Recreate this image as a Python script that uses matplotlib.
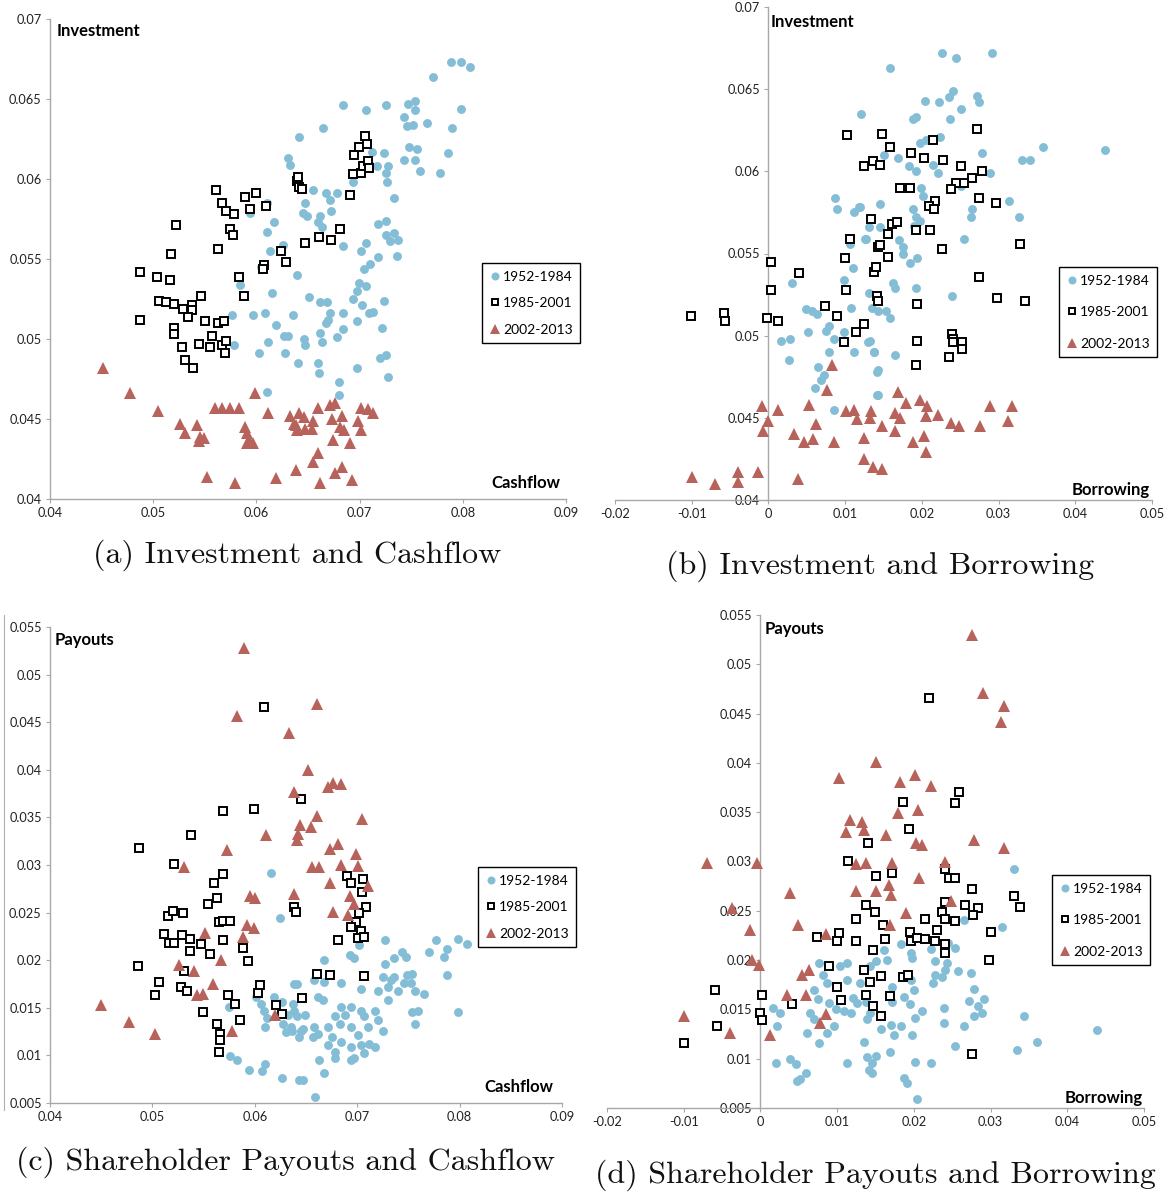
import matplotlib
matplotlib.use("Agg")
import matplotlib.pyplot as plt
from matplotlib.lines import Line2D

W, H = 1169, 1192

# ---------------- (a) Investment vs Cashflow ----------------
a52_x = [0.0641, 0.0631, 0.0633, 0.0610, 0.0594, 0.0617, 0.0610, 0.0626, 0.0613, 0.0604, 0.0639, 0.0584,
         0.0615, 0.0576, 0.0597, 0.0608, 0.0635, 0.0619, 0.0627, 0.0631, 0.0611, 0.0603, 0.0628, 0.0578,
         0.0640, 0.0610,
         0.0665, 0.0684, 0.0706, 0.0726, 0.0747, 0.0754, 0.0754, 0.0743, 0.0765, 0.0746, 0.0752, 0.0771,
         0.0789, 0.0798, 0.0807, 0.0798, 0.0790, 0.0786, 0.0778, 0.0759, 0.0748, 0.0756, 0.0754, 0.0743,
         0.0724, 0.0717, 0.0728, 0.0726, 0.0727, 0.0712, 0.0710, 0.0694, 0.0655, 0.0667, 0.0671, 0.0678,
         0.0647, 0.0645, 0.0649, 0.0662, 0.0660, 0.0672, 0.0664, 0.0733, 0.0718, 0.0726, 0.0726, 0.0733,
         0.0729, 0.0737, 0.0684, 0.0706, 0.0701, 0.0736, 0.0718, 0.0710, 0.0704, 0.0651, 0.0662, 0.0668,
         0.0699, 0.0697, 0.0706, 0.0694, 0.0724, 0.0702, 0.0709, 0.0713, 0.0671, 0.0669, 0.0667, 0.0684,
         0.0697, 0.0646, 0.0647, 0.0662, 0.0664, 0.0684, 0.0678, 0.0722, 0.0660, 0.0661, 0.0697, 0.0720,
         0.0726, 0.0728, 0.0680, 0.0680]
a52_y = [0.0626, 0.0613, 0.0609, 0.0585, 0.0579, 0.0573, 0.0567, 0.0559, 0.0555, 0.0545, 0.0540, 0.0534,
         0.0529, 0.0515, 0.0515, 0.0516, 0.0515, 0.0509, 0.0502, 0.0502, 0.0498, 0.0491, 0.0491, 0.0496,
         0.0485, 0.0467,
         0.0632, 0.0646, 0.0643, 0.0646, 0.0647, 0.0649, 0.0643, 0.0639, 0.0635, 0.0633, 0.0634, 0.0664,
         0.0673, 0.0673, 0.0670, 0.0644, 0.0632, 0.0616, 0.0604, 0.0605, 0.0620, 0.0619, 0.0612, 0.0612,
         0.0616, 0.0608, 0.0608, 0.0604, 0.0598, 0.0617, 0.0609, 0.0598, 0.0593, 0.0591, 0.0587, 0.0591,
         0.0585, 0.0579, 0.0577, 0.0577, 0.0573, 0.0580, 0.0570, 0.0588, 0.0572, 0.0574, 0.0565, 0.0566,
         0.0561, 0.0562, 0.0558, 0.0560, 0.0555, 0.0552, 0.0551, 0.0547, 0.0544, 0.0526, 0.0523, 0.0523,
         0.0535, 0.0530, 0.0533, 0.0525, 0.0524, 0.0521, 0.0516, 0.0517, 0.0516, 0.0512, 0.0510, 0.0516,
         0.0511, 0.0500, 0.0496, 0.0504, 0.0498, 0.0506, 0.0501, 0.0507, 0.0485, 0.0479, 0.0482, 0.0488,
         0.0490, 0.0476, 0.0473, 0.0465]
a85_x = [0.0487, 0.0487, 0.0504, 0.0516, 0.0517, 0.0522, 0.0506, 0.0512, 0.0520, 0.0529, 0.0538, 0.0538,
         0.0534, 0.0546, 0.0520, 0.0520, 0.0528, 0.0531, 0.0539, 0.0544, 0.0550, 0.0555, 0.0557, 0.0563,
         0.0569, 0.0567, 0.0570, 0.0571, 0.0563, 0.0561, 0.0567, 0.0571, 0.0578, 0.0574, 0.0577, 0.0583,
         0.0588, 0.0589, 0.0594, 0.0600, 0.0609, 0.0607, 0.0606, 0.0624, 0.0629, 0.0639, 0.0641, 0.0640,
         0.0644, 0.0647, 0.0661, 0.0672, 0.0681, 0.0691, 0.0694, 0.0695, 0.0699, 0.0705, 0.0707, 0.0701,
         0.0703, 0.0708, 0.0709]
a85_y = [0.0542, 0.0512, 0.0539, 0.0537, 0.0553, 0.0571, 0.0524, 0.0523, 0.0522, 0.0519, 0.0521, 0.0518,
         0.0514, 0.0527, 0.0507, 0.0503, 0.0495, 0.0487, 0.0482, 0.0497, 0.0511, 0.0495, 0.0502, 0.0510,
         0.0511, 0.0496, 0.0491, 0.0499, 0.0556, 0.0593, 0.0585, 0.0580, 0.0578, 0.0569, 0.0565, 0.0539,
         0.0527, 0.0589, 0.0581, 0.0591, 0.0583, 0.0546, 0.0544, 0.0555, 0.0548, 0.0599, 0.0595, 0.0601,
         0.0594, 0.0560, 0.0564, 0.0562, 0.0569, 0.0590, 0.0603, 0.0615, 0.0620, 0.0627, 0.0622, 0.0604,
         0.0608, 0.0611, 0.0607]
a02_x = [0.0451, 0.0478, 0.0505, 0.0526, 0.0531, 0.0542, 0.0545, 0.0544, 0.0549, 0.0560, 0.0567, 0.0574,
         0.0583, 0.0589, 0.0591, 0.0593, 0.0597, 0.0591, 0.0599, 0.0611, 0.0552, 0.0579, 0.0619, 0.0638,
         0.0636, 0.0639, 0.0633, 0.0641, 0.0646, 0.0638, 0.0647, 0.0654, 0.0660, 0.0655, 0.0671, 0.0676,
         0.0673, 0.0683, 0.0681, 0.0685, 0.0701, 0.0708, 0.0713, 0.0698, 0.0701, 0.0674, 0.0691, 0.0660,
         0.0655, 0.0676, 0.0683, 0.0662, 0.0693]
a02_y = [0.0482, 0.0466, 0.0455, 0.0447, 0.0441, 0.0446, 0.0439, 0.0436, 0.0438, 0.0457, 0.0457, 0.0457,
         0.0457, 0.0445, 0.0441, 0.0437, 0.0435, 0.0435, 0.0466, 0.0454, 0.0414, 0.0410, 0.0413, 0.0418,
         0.0447, 0.0443, 0.0452, 0.0454, 0.0451, 0.0446, 0.0444, 0.0444, 0.0457, 0.0449, 0.0459, 0.0460,
         0.0450, 0.0452, 0.0445, 0.0443, 0.0457, 0.0456, 0.0454, 0.0449, 0.0443, 0.0437, 0.0435, 0.0429,
         0.0423, 0.0416, 0.0420, 0.0410, 0.0412]

# ---------------- (b) Investment vs Borrowing ----------------
b52_x = [0.0121, 0.0087, 0.0090, 0.0112, 0.0118, 0.0127, 0.0106, 0.0110, 0.0099, 0.0031, 0.0049, 0.0057,
         0.0063, 0.0108, 0.0079, 0.0075, 0.0051, 0.0085, 0.0099, 0.0017, 0.0028, 0.0027, 0.0079, 0.0064,
         0.0112, 0.0073, 0.0069, 0.0061, 0.0086, 0.0130, 0.0138, 0.0141, 0.0141,
         0.0226, 0.0245, 0.0292, 0.0159, 0.0204, 0.0222, 0.0236, 0.0241, 0.0272, 0.0275, 0.0251, 0.0188,
         0.0193, 0.0237, 0.0198, 0.0205, 0.0223, 0.0169, 0.0151, 0.0214, 0.0221, 0.0193, 0.0183, 0.0279,
         0.0289, 0.0331, 0.0341, 0.0358, 0.0439, 0.0251, 0.0199, 0.0201, 0.0314, 0.0326, 0.0266, 0.0264,
         0.0146, 0.0188, 0.0192, 0.0197, 0.0190, 0.0131, 0.0146, 0.0126, 0.0120, 0.0170, 0.0175, 0.0175,
         0.0184, 0.0194, 0.0255, 0.0162, 0.0165, 0.0193, 0.0239, 0.0131, 0.0135, 0.0143, 0.0153, 0.0158,
         0.0133, 0.0137, 0.0165, 0.0143, 0.0143]
b52_y = [0.0635, 0.0584, 0.0577, 0.0575, 0.0578, 0.0559, 0.0556, 0.0541, 0.0534, 0.0532, 0.0516, 0.0515,
         0.0513, 0.0517, 0.0506, 0.0503, 0.0502, 0.0498, 0.0502, 0.0497, 0.0498, 0.0485, 0.0490, 0.0481,
         0.0490, 0.0476, 0.0473, 0.0468, 0.0455, 0.0496, 0.0490, 0.0478, 0.0464,
         0.0672, 0.0669, 0.0672, 0.0663, 0.0643, 0.0642, 0.0645, 0.0649, 0.0646, 0.0642, 0.0638, 0.0632,
         0.0633, 0.0632, 0.0617, 0.0619, 0.0621, 0.0608, 0.0610, 0.0604, 0.0599, 0.0600, 0.0603, 0.0611,
         0.0599, 0.0607, 0.0607, 0.0615, 0.0613, 0.0591, 0.0590, 0.0585, 0.0582, 0.0572, 0.0577, 0.0572,
         0.0580, 0.0577, 0.0572, 0.0570, 0.0567, 0.0566, 0.0566, 0.0559, 0.0578, 0.0558, 0.0554, 0.0550,
         0.0544, 0.0547, 0.0559, 0.0532, 0.0529, 0.0529, 0.0524, 0.0526, 0.0517, 0.0515, 0.0515, 0.0511,
         0.0497, 0.0490, 0.0488, 0.0479, 0.0464]
b85_x = [-0.0101, -0.0058, -0.0056, 0.0003, 0.0003, -0.0002, 0.0013, 0.0040, 0.0074, 0.0090, 0.0099, 0.0100,
         0.0101, 0.0106, 0.0103, 0.0114, 0.0125, 0.0124, 0.0136, 0.0134, 0.0138, 0.0140, 0.0141, 0.0143,
         0.0143, 0.0148, 0.0158, 0.0146, 0.0186, 0.0203, 0.0215, 0.0228, 0.0272, 0.0251, 0.0279, 0.0265,
         0.0255, 0.0245, 0.0238, 0.0171, 0.0184, 0.0274, 0.0296, 0.0217, 0.0209, 0.0216, 0.0161, 0.0168,
         0.0156, 0.0192, 0.0210, 0.0145, 0.0156, 0.0226, 0.0328, 0.0274, 0.0194, 0.0298, 0.0335, 0.0194,
         0.0192, 0.0239, 0.0241, 0.0241, 0.0252, 0.0252, 0.0235]
b85_y = [0.0512, 0.0514, 0.0509, 0.0545, 0.0528, 0.0511, 0.0509, 0.0538, 0.0518, 0.0512, 0.0496, 0.0547,
         0.0528, 0.0559, 0.0622, 0.0502, 0.0507, 0.0603, 0.0606, 0.0571, 0.0539, 0.0542, 0.0524, 0.0521,
         0.0554, 0.0623, 0.0615, 0.0604, 0.0611, 0.0608, 0.0619, 0.0607, 0.0626, 0.0603, 0.0600, 0.0596,
         0.0593, 0.0593, 0.0589, 0.0590, 0.0590, 0.0584, 0.0581, 0.0582, 0.0579, 0.0577, 0.0568, 0.0569,
         0.0562, 0.0564, 0.0564, 0.0555, 0.0548, 0.0553, 0.0556, 0.0536, 0.0519, 0.0523, 0.0521, 0.0497,
         0.0482, 0.0501, 0.0498, 0.0496, 0.0496, 0.0492, 0.0487]
b02_x = [-0.0100, -0.0069, -0.0040, -0.0040, -0.0014, 0.0038, -0.0008, -0.0001, -0.0007, 0.0012, 0.0033,
         0.0047, 0.0058, 0.0053, 0.0062, 0.0085, 0.0083, 0.0076, 0.0101, 0.0112, 0.0116, 0.0134, 0.0132,
         0.0124, 0.0124, 0.0136, 0.0169, 0.0179, 0.0165, 0.0171, 0.0197, 0.0207, 0.0205, 0.0221, 0.0238,
         0.0248, 0.0276, 0.0289, 0.0317, 0.0312, 0.0148, 0.0165, 0.0188, 0.0203, 0.0205, 0.0148]
b02_y = [0.0414, 0.0410, 0.0417, 0.0411, 0.0417, 0.0413, 0.0457, 0.0448, 0.0442, 0.0455, 0.0440, 0.0435,
         0.0437, 0.0458, 0.0446, 0.0435, 0.0482, 0.0467, 0.0454, 0.0455, 0.0449, 0.0454, 0.0450, 0.0438,
         0.0425, 0.0420, 0.0466, 0.0459, 0.0453, 0.0450, 0.0461, 0.0457, 0.0451, 0.0452, 0.0447, 0.0445,
         0.0445, 0.0457, 0.0457, 0.0448, 0.0445, 0.0442, 0.0435, 0.0439, 0.0429, 0.0419]

# ---------------- (c) Payouts vs Cashflow ----------------
c52_x = [0.0616, 0.0625, 0.0638, 0.0601, 0.0606, 0.0609, 0.0612, 0.0610, 0.0575, 0.0619, 0.0627, 0.0638,
         0.0635, 0.0643, 0.0628, 0.0630, 0.0576, 0.0583, 0.0594, 0.0607, 0.0610, 0.0627, 0.0643,
         0.0702, 0.0727, 0.0668, 0.0693, 0.0697, 0.0641, 0.0658, 0.0668, 0.0684, 0.0704, 0.0662, 0.0667,
         0.0637, 0.0632, 0.0641, 0.0649, 0.0684, 0.0694, 0.0678, 0.0683, 0.0688, 0.0704, 0.0707, 0.0711,
         0.0717, 0.0720, 0.0725, 0.0720, 0.0730, 0.0736, 0.0725, 0.0730, 0.0727, 0.0733, 0.0736, 0.0744,
         0.0748, 0.0740, 0.0746, 0.0749, 0.0754, 0.0753, 0.0756, 0.0765, 0.0754, 0.0759, 0.0756, 0.0770,
         0.0777, 0.0785, 0.0788, 0.0798, 0.0807, 0.0788, 0.0798, 0.0658, 0.0662, 0.0657, 0.0671, 0.0675,
         0.0647, 0.0694, 0.0701, 0.0704, 0.0712, 0.0684, 0.0694, 0.0671, 0.0678, 0.0663, 0.0678, 0.0694,
         0.0697, 0.0707, 0.0717, 0.0668, 0.0647, 0.0659, 0.0645, 0.0636]
c52_y = [0.0292, 0.0244, 0.0175, 0.0161, 0.0154, 0.0147, 0.0139, 0.0130, 0.0151, 0.0161, 0.0156, 0.0147,
         0.0130, 0.0119, 0.0133, 0.0125, 0.0099, 0.0095, 0.0085, 0.0084, 0.0091, 0.0076, 0.0074,
         0.0216, 0.0221, 0.0200, 0.0205, 0.0202, 0.0175, 0.0179, 0.0177, 0.0176, 0.0170, 0.0161, 0.0158,
         0.0154, 0.0142, 0.0141, 0.0142, 0.0151, 0.0151, 0.0141, 0.0133, 0.0142, 0.0147, 0.0141, 0.0130,
         0.0147, 0.0137, 0.0126, 0.0168, 0.0172, 0.0182, 0.0182, 0.0158, 0.0196, 0.0179, 0.0202, 0.0209,
         0.0203, 0.0168, 0.0176, 0.0184, 0.0186, 0.0176, 0.0168, 0.0165, 0.0146, 0.0147, 0.0133, 0.0209,
         0.0221, 0.0203, 0.0212, 0.0222, 0.0217, 0.0184, 0.0146, 0.0130, 0.0123, 0.0119, 0.0130, 0.0119,
         0.0128, 0.0130, 0.0121, 0.0111, 0.0112, 0.0114, 0.0109, 0.0111, 0.0104, 0.0095, 0.0097, 0.0095,
         0.0097, 0.0102, 0.0109, 0.0081, 0.0074, 0.0056, 0.0126, 0.0126]
c85_x = [0.0486, 0.0487, 0.0503, 0.0506, 0.0515, 0.0520, 0.0511, 0.0516, 0.0521, 0.0521, 0.0529, 0.0530,
         0.0528, 0.0534, 0.0531, 0.0537, 0.0537, 0.0538, 0.0547, 0.0549, 0.0556, 0.0554, 0.0563, 0.0560,
         0.0569, 0.0569, 0.0565, 0.0569, 0.0576, 0.0569, 0.0574, 0.0581, 0.0563, 0.0566, 0.0566, 0.0565,
         0.0586, 0.0588, 0.0593, 0.0599, 0.0609, 0.0605, 0.0603, 0.0621, 0.0627, 0.0638, 0.0640, 0.0646,
         0.0645, 0.0661, 0.0673, 0.0681, 0.0690, 0.0694, 0.0706, 0.0705, 0.0709, 0.0702, 0.0699, 0.0694,
         0.0704, 0.0701, 0.0707, 0.0707]
c85_y = [0.0194, 0.0318, 0.0163, 0.0177, 0.0246, 0.0252, 0.0228, 0.0218, 0.0218, 0.0301, 0.0226, 0.0250,
         0.0172, 0.0168, 0.0189, 0.0222, 0.0210, 0.0332, 0.0217, 0.0146, 0.0207, 0.0259, 0.0265, 0.0281,
         0.0291, 0.0357, 0.0240, 0.0241, 0.0241, 0.0221, 0.0163, 0.0154, 0.0133, 0.0123, 0.0116, 0.0104,
         0.0137, 0.0213, 0.0199, 0.0359, 0.0466, 0.0174, 0.0166, 0.0153, 0.0143, 0.0256, 0.0251, 0.0160,
         0.0369, 0.0185, 0.0184, 0.0221, 0.0288, 0.0281, 0.0285, 0.0272, 0.0256, 0.0250, 0.0240, 0.0235,
         0.0231, 0.0223, 0.0224, 0.0183]
c02_x = [0.0450, 0.0477, 0.0503, 0.0531, 0.0526, 0.0541, 0.0544, 0.0549, 0.0551, 0.0559, 0.0567, 0.0573,
         0.0578, 0.0583, 0.0589, 0.0588, 0.0592, 0.0599, 0.0595, 0.0600, 0.0611, 0.0620, 0.0633, 0.0638,
         0.0638, 0.0661, 0.0652, 0.0671, 0.0676, 0.0684, 0.0661, 0.0705, 0.0644, 0.0642, 0.0641, 0.0655,
         0.0673, 0.0681, 0.0699, 0.0656, 0.0663, 0.0684, 0.0701, 0.0673, 0.0711, 0.0693, 0.0697, 0.0676,
         0.0691]
c02_y = [0.0153, 0.0135, 0.0123, 0.0298, 0.0195, 0.0189, 0.0163, 0.0165, 0.0229, 0.0175, 0.0200, 0.0316,
         0.0126, 0.0456, 0.0528, 0.0224, 0.0237, 0.0234, 0.0267, 0.0265, 0.0331, 0.0142, 0.0439, 0.0377,
         0.0270, 0.0469, 0.0400, 0.0382, 0.0386, 0.0385, 0.0351, 0.0348, 0.0342, 0.0333, 0.0326, 0.0340,
         0.0317, 0.0322, 0.0312, 0.0298, 0.0298, 0.0300, 0.0299, 0.0281, 0.0278, 0.0267, 0.0259, 0.0251,
         0.0248]

# ---------------- (d) Payouts vs Borrowing ----------------
d52_x = [0.0017, 0.0026, 0.0021, 0.0020, 0.0039, 0.0046, 0.0052, 0.0059, 0.0048, 0.0061, 0.0070, 0.0076,
         0.0076, 0.0082, 0.0087, 0.0070, 0.0075, 0.0065, 0.0089, 0.0098, 0.0109, 0.0104, 0.0113, 0.0113,
         0.0121, 0.0126, 0.0096, 0.0087, 0.0113, 0.0118, 0.0130, 0.0137, 0.0139, 0.0139, 0.0141,
         0.0330, 0.0315, 0.0266, 0.0254, 0.0244, 0.0183, 0.0196, 0.0198, 0.0150, 0.0161, 0.0165, 0.0143,
         0.0222, 0.0228, 0.0243, 0.0257, 0.0274, 0.0228, 0.0225, 0.0237, 0.0241, 0.0196, 0.0200, 0.0187,
         0.0195, 0.0211, 0.0202, 0.0172, 0.0172, 0.0239, 0.0239, 0.0272, 0.0278, 0.0283, 0.0289, 0.0278,
         0.0266, 0.0292, 0.0343, 0.0439, 0.0361, 0.0334, 0.0253, 0.0222, 0.0202, 0.0187, 0.0191, 0.0204,
         0.0146, 0.0146, 0.0150, 0.0169, 0.0174, 0.0183, 0.0157, 0.0143, 0.0135, 0.0198, 0.0170]
d52_y = [0.0151, 0.0146, 0.0133, 0.0096, 0.0100, 0.0095, 0.0079, 0.0085, 0.0077, 0.0126, 0.0140, 0.0116,
         0.0197, 0.0185, 0.0177, 0.0170, 0.0161, 0.0146, 0.0156, 0.0150, 0.0148, 0.0194, 0.0197, 0.0180,
         0.0162, 0.0156, 0.0133, 0.0126, 0.0096, 0.0146, 0.0177, 0.0158, 0.0140, 0.0102, 0.0089,
         0.0292, 0.0234, 0.0241, 0.0212, 0.0217, 0.0216, 0.0207, 0.0202, 0.0199, 0.0210, 0.0200, 0.0194,
         0.0211, 0.0199, 0.0197, 0.0189, 0.0187, 0.0185, 0.0177, 0.0183, 0.0190, 0.0180, 0.0170, 0.0163,
         0.0155, 0.0148, 0.0141, 0.0173, 0.0158, 0.0151, 0.0136, 0.0159, 0.0171, 0.0153, 0.0146, 0.0143,
         0.0133, 0.0161, 0.0143, 0.0129, 0.0117, 0.0109, 0.0113, 0.0096, 0.0097, 0.0080, 0.0075, 0.0059,
         0.0096, 0.0086, 0.0103, 0.0107, 0.0124, 0.0133, 0.0130, 0.0146, 0.0117, 0.0124, 0.0134]
d85_x = [-0.0100, -0.0059, -0.0057, 0.0002, 0.0000, 0.0002, 0.0041, 0.0074, 0.0090, 0.0103, 0.0100, 0.0100,
         0.0105, 0.0114, 0.0125, 0.0125, 0.0135, 0.0137, 0.0138, 0.0140, 0.0220, 0.0259, 0.0253, 0.0186,
         0.0194, 0.0172, 0.0150, 0.0241, 0.0246, 0.0254, 0.0276, 0.0330, 0.0338, 0.0149, 0.0241, 0.0267,
         0.0283, 0.0277, 0.0237, 0.0215, 0.0241, 0.0254, 0.0160, 0.0230, 0.0195, 0.0196, 0.0204, 0.0214,
         0.0228, 0.0240, 0.0241, 0.0163, 0.0300, 0.0298, 0.0147, 0.0143, 0.0157, 0.0169, 0.0147, 0.0157,
         0.0186, 0.0193, 0.0276]
d85_y = [0.0116, 0.0170, 0.0133, 0.0165, 0.0146, 0.0139, 0.0155, 0.0223, 0.0194, 0.0227, 0.0219, 0.0173,
         0.0160, 0.0301, 0.0242, 0.0219, 0.0190, 0.0165, 0.0256, 0.0319, 0.0466, 0.0370, 0.0359, 0.0360,
         0.0333, 0.0288, 0.0285, 0.0292, 0.0283, 0.0283, 0.0272, 0.0265, 0.0254, 0.0249, 0.0259, 0.0256,
         0.0253, 0.0246, 0.0249, 0.0242, 0.0242, 0.0240, 0.0236, 0.0231, 0.0228, 0.0219, 0.0222, 0.0221,
         0.0219, 0.0216, 0.0207, 0.0221, 0.0228, 0.0200, 0.0210, 0.0178, 0.0184, 0.0164, 0.0153, 0.0143,
         0.0183, 0.0185, 0.0105]
d02_x = [-0.0099, -0.0070, -0.0040, -0.0037, -0.0014, -0.0011, -0.0002, -0.0005, 0.0012, 0.0034, 0.0038,
         0.0049, 0.0054, 0.0059, 0.0063, 0.0086, 0.0085, 0.0078, 0.0102, 0.0112, 0.0117, 0.0133, 0.0125,
         0.0137, 0.0135, 0.0124, 0.0276, 0.0290, 0.0318, 0.0314, 0.0150, 0.0182, 0.0201, 0.0222, 0.0179,
         0.0206, 0.0164, 0.0203, 0.0211, 0.0279, 0.0317, 0.0172, 0.0240, 0.0207, 0.0167, 0.0150, 0.0170,
         0.0249, 0.0190, 0.0169]
d02_y = [0.0143, 0.0298, 0.0126, 0.0253, 0.0231, 0.0200, 0.0195, 0.0298, 0.0124, 0.0165, 0.0268, 0.0236,
         0.0185, 0.0165, 0.0190, 0.0226, 0.0145, 0.0136, 0.0385, 0.0330, 0.0342, 0.0340, 0.0297, 0.0298,
         0.0332, 0.0270, 0.0530, 0.0471, 0.0458, 0.0441, 0.0401, 0.0381, 0.0388, 0.0377, 0.0349, 0.0352,
         0.0327, 0.0319, 0.0317, 0.0322, 0.0314, 0.0298, 0.0300, 0.0283, 0.0276, 0.0270, 0.0266, 0.0260,
         0.0248, 0.0236]

periods = ["1952-1984", "1985-2001", "2002-2013"]
captions = ["(a) Investment and Cashflow", "(b) Investment and Borrowing",
            "(c) Shareholder Payouts and Cashflow", "(d) Shareholder Payouts and Borrowing"]

cash_ticks = [0.04, 0.05, 0.06, 0.07, 0.08, 0.09]
cash_labels = ["0.04", "0.05", "0.06", "0.07", "0.08", "0.09"]
borrow_ticks = [-0.02, -0.01, 0.0, 0.01, 0.02, 0.03, 0.04, 0.05]
borrow_labels = ["-0.02", "-0.01", "0", "0.01", "0.02", "0.03", "0.04", "0.05"]
inv_ticks = [0.04, 0.045, 0.05, 0.055, 0.06, 0.065, 0.07]
inv_labels = ["0.04", "0.045", "0.05", "0.055", "0.06", "0.065", "0.07"]
pay_ticks = [0.005, 0.01, 0.015, 0.02, 0.025, 0.03, 0.035, 0.04, 0.045, 0.05, 0.055]
pay_labels = ["0.005", "0.01", "0.015", "0.02", "0.025", "0.03", "0.035", "0.04", "0.045", "0.05", "0.055"]

BLUE = "#84bdd6"
RED = "#b8625c"
SANS = ["Lato", "DejaVu Sans"]
TICKFS = 9.2

fig = plt.figure(figsize=(W / 100, H / 100), dpi=100)


def px_axes(x0, y0, x1, y1):
    # pixel box (left, top, right, bottom) -> figure fraction axes
    return fig.add_axes([x0 / W, 1 - y1 / H, (x1 - x0) / W, (y1 - y0) / H])


def style(ax, xt, xl, yt, yl, yspine_at=None):
    ax.set_xlim(xt[0], xt[-1])
    ax.set_ylim(yt[0], yt[-1])
    ax.set_xticks(xt)
    ax.set_xticklabels(xl)
    ax.set_yticks(yt)
    ax.set_yticklabels(yl)
    for s in ("top", "right"):
        ax.spines[s].set_visible(False)
    for s in ("left", "bottom"):
        ax.spines[s].set_color("#a8a8a8")
        ax.spines[s].set_linewidth(1.0)
    if yspine_at is not None:
        ax.spines["left"].set_position(("data", yspine_at))
    ax.tick_params(axis="both", direction="out", length=3, width=0.8, color="#a8a8a8",
                   labelsize=TICKFS, labelcolor="#222222", pad=3)
    for lab in ax.get_xticklabels() + ax.get_yticklabels():
        lab.set_family(SANS)
    ax.patch.set_visible(False)


def scatter3(ax, s52, s85, s02):
    ax.plot(s52[0], s52[1], "o", ms=6.4, mfc=BLUE, mec=BLUE, mew=0, ls="none", label=periods[0], zorder=2)
    ax.plot(s85[0], s85[1], "s", ms=5.4, mfc="white", mec="black", mew=1.4, ls="none", label=periods[1], zorder=3)
    ax.plot(s02[0], s02[1], "^", ms=8.2, mfc=RED, mec=RED, mew=0, ls="none", label=periods[2], zorder=4)


def add_legend(ax, box, spacing):
    x0, y0 = box
    leg = ax.legend(loc="upper left", bbox_to_anchor=(x0 / W, 1 - y0 / H), bbox_transform=fig.transFigure,
                    frameon=True, fancybox=False, edgecolor="black", framealpha=1,
                    prop={"family": SANS, "size": 10}, handlelength=0.7, handletextpad=0.25,
                    labelspacing=spacing, borderpad=0.55, borderaxespad=0, markerscale=0.9)
    leg.get_frame().set_linewidth(1.0)


def axis_title(x, y, text, ha="left"):
    fig.text(x / W, 1 - y / H, text, ha=ha, va="center", fontsize=12, fontweight="bold",
             family=SANS, color="black")


# (a)
ax_a = px_axes(50, 19, 566, 499)
scatter3(ax_a, (a52_x, a52_y), (a85_x, a85_y), (a02_x, a02_y))
style(ax_a, cash_ticks, cash_labels, inv_ticks, inv_labels)
add_legend(ax_a, (482, 263), 1.05)
axis_title(57, 31, "Investment")
axis_title(560, 483, "Cashflow", ha="right")

# (b)
ax_b = px_axes(615, 7, 1152, 500)
scatter3(ax_b, (b52_x, b52_y), (b85_x, b85_y), (b02_x, b02_y))
style(ax_b, borrow_ticks, borrow_labels, inv_ticks, inv_labels, yspine_at=0.0)
add_legend(ax_b, (1059, 267), 1.4)
axis_title(771, 22, "Investment")
axis_title(1150, 490, "Borrowing", ha="right")

# (c)
ax_c = px_axes(50, 627, 562, 1103)
scatter3(ax_c, (c52_x, c52_y), (c85_x, c85_y), (c02_x, c02_y))
style(ax_c, cash_ticks, cash_labels, pay_ticks, pay_labels)
add_legend(ax_c, (478, 867), 1.05)
axis_title(55, 640, "Payouts")
axis_title(553, 1087, "Cashflow", ha="right")

# (d)
ax_d = px_axes(607, 615, 1144, 1108)
scatter3(ax_d, (d52_x, d52_y), (d85_x, d85_y), (d02_x, d02_y))
style(ax_d, borrow_ticks, borrow_labels, pay_ticks, pay_labels, yspine_at=0.0)
add_legend(ax_d, (1052, 875), 1.4)
axis_title(765, 629, "Payouts")
axis_title(1143, 1098, "Borrowing", ha="right")

# thin rule at the far left of panel (c)
fig.add_artist(Line2D([4 / W, 4 / W], [1 - 1110 / H, 1 - 615 / H], color="#b0b0b0", lw=0.8))

# captions
cap_pos = [(297, 555), (880, 566), (285, 1162), (875, 1175)]
for (cx, cy), txt in zip(cap_pos, captions):
    fig.text(cx / W, 1 - cy / H, txt, ha="center", va="center", fontsize=23, family="cmr10",
             color="#111111")

fig.savefig("out.png", dpi=100)
